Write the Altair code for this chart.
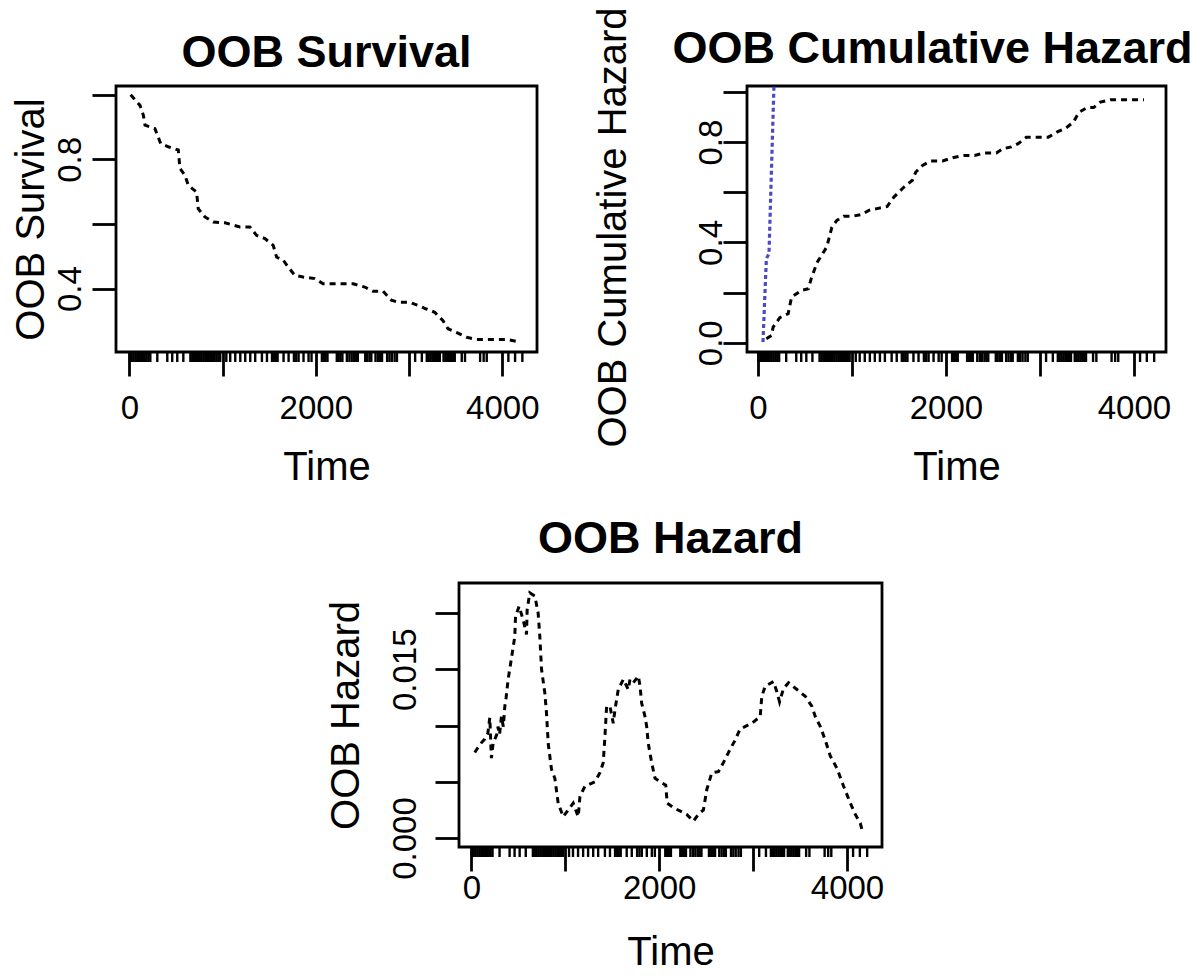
import altair as alt
import pandas as pd

FONT = "Liberation Sans"

# ---------------- data ----------------
surv_time = [14, 114, 150, 168, 275, 336, 418, 525, 543, 596, 632, 721, 739, 811, 900,
             1025, 1186, 1293, 1364, 1454, 1543, 1579, 1650, 1704, 1775, 1864, 1989, 2079,
             2186, 2400, 2525, 2614, 2721, 2811, 2882, 3007, 3096, 3186, 3275, 3364, 3418,
             3507, 3614, 3721, 3864, 4043, 4186]
surv_val = [1.0, 0.967, 0.937, 0.906, 0.895, 0.849, 0.839, 0.829, 0.772, 0.751, 0.720,
            0.699, 0.647, 0.622, 0.606, 0.604, 0.591, 0.591, 0.565, 0.555, 0.534, 0.498,
            0.488, 0.467, 0.441, 0.436, 0.431, 0.415, 0.415, 0.415, 0.405, 0.392, 0.392,
            0.364, 0.358, 0.358, 0.348, 0.337, 0.327, 0.301, 0.276, 0.265, 0.250, 0.243,
            0.243, 0.243, 0.235]

chaz_time = [89, 143, 161, 232, 321, 357, 464, 536, 571, 632, 732, 786, 839, 911, 1000,
             1107, 1179, 1268, 1375, 1446, 1554, 1643, 1679, 1750, 1839, 1964, 2071, 2196,
             2304, 2411, 2536, 2607, 2696, 2768, 2857, 2964, 3089, 3179, 3268, 3357, 3411,
             3500, 3571, 3643, 3750, 3857, 3982, 4107]
chaz_val = [0.016, 0.029, 0.0625, 0.100, 0.116, 0.182, 0.209, 0.215, 0.262, 0.322, 0.382,
            0.461, 0.488, 0.504, 0.504, 0.512, 0.528, 0.535, 0.544, 0.581, 0.621, 0.648,
            0.681, 0.707, 0.725, 0.725, 0.738, 0.747, 0.747, 0.757, 0.757, 0.774, 0.781,
            0.794, 0.820, 0.820, 0.820, 0.840, 0.854, 0.880, 0.918, 0.938, 0.938, 0.960,
            0.969, 0.969, 0.969, 0.969]

blue_time = [53, 89, 117, 170, 185]
blue_val = [0.003, 0.335, 0.355, 1.027, 1.217]

haz_time = [36, 89, 142, 175, 196, 213, 231, 270, 284, 300, 320, 340, 356, 370, 391, 427,
            462, 470, 508, 551, 587, 594, 622, 676, 711, 729, 747, 782, 800, 818, 853, 889,
            924, 978, 1031, 1084, 1138, 1156, 1209, 1316, 1369, 1404, 1422, 1440, 1476,
            1511, 1529, 1564, 1618, 1671, 1689, 1724, 1778, 1796, 1813, 1849, 1867, 1884,
            1920, 1956, 2070, 2085, 2151, 2293, 2364, 2418, 2471, 2507, 2560, 2631, 2684,
            2756, 2809, 2862, 2987, 3076, 3093, 3129, 3218, 3253, 3282, 3324, 3378, 3467,
            3556, 3627, 3662, 3716, 3769, 3822, 3893, 3964, 4036, 4089, 4142, 4171]
haz_val = [0.0076, 0.0083, 0.0088, 0.0093, 0.0107, 0.0071, 0.0084, 0.0092, 0.0099, 0.0092,
           0.0108, 0.0099, 0.0117, 0.0125, 0.0141, 0.0160, 0.0179, 0.0197, 0.0206, 0.0194,
           0.0181, 0.0203, 0.0218, 0.0215, 0.0200, 0.0179, 0.0150, 0.0129, 0.0111, 0.0084,
           0.0061, 0.0053, 0.0031, 0.0019, 0.0025, 0.0031, 0.0019, 0.0037, 0.0046, 0.0050,
           0.0058, 0.0067, 0.0090, 0.0117, 0.0117, 0.0102, 0.0114, 0.0132, 0.0141, 0.0132,
           0.0141, 0.0138, 0.0144, 0.0135, 0.0120, 0.0108, 0.0099, 0.0084, 0.0067, 0.0053,
           0.0047, 0.0031, 0.0027, 0.0021, 0.0015, 0.0021, 0.0025, 0.0043, 0.0058, 0.0059,
           0.0067, 0.0079, 0.0087, 0.0097, 0.0102, 0.0108, 0.0126, 0.0135, 0.0139, 0.0130,
           0.0121, 0.0133, 0.0138, 0.0132, 0.0126, 0.0117, 0.0108, 0.0099, 0.0087, 0.0073,
           0.0062, 0.0046, 0.0031, 0.0021, 0.0013, 0.0004]

rug_time = [5, 25, 45, 65, 85, 105, 125, 145, 165, 185, 205, 225, 300, 407, 460, 514, 579,
            655, 675, 695, 715, 735, 755, 775, 795, 815, 835, 855, 875, 895, 915, 935, 955,
            975, 1040, 1082, 1136, 1190, 1243, 1297, 1350, 1422, 1476, 1530, 1550, 1570,
            1590, 1654, 1708, 1765, 1790, 1815, 1868, 1922, 1954, 2065, 2085, 2105, 2125,
            2225, 2245, 2265, 2285, 2333, 2360, 2385, 2410, 2430, 2450, 2530, 2550, 2575,
            2595, 2640, 2665, 2690, 2710, 2765, 2790, 2815, 2845, 2870, 3065, 3137, 3190,
            3210, 3230, 3250, 3270, 3290, 3310, 3330, 3370, 3390, 3410, 3430, 3450, 3470,
            3490, 3565, 3600, 3762, 3800, 3833, 4065, 4137, 4215]

x_ticks = [0, 1000, 2000, 3000, 4000]

surv_df = pd.DataFrame({"time": surv_time, "value": surv_val})
chaz_df = pd.DataFrame({"time": chaz_time, "value": chaz_val})
blue_df = pd.DataFrame({"time": blue_time, "value": blue_val})
haz_df = pd.DataFrame({"time": haz_time, "value": haz_val, "idx": list(range(len(haz_time)))})
rug_df = pd.DataFrame({"time": rug_time})

DASH = [6, 5]
LW = 3


def x_enc(domain, label_pad, title_pad):
    return alt.X(
        "time:Q",
        scale=alt.Scale(domain=domain, nice=False, zero=False),
        axis=alt.Axis(values=x_ticks, format="d",
                      labelExpr="datum.value % 2000 == 0 ? datum.label : ''",
                      title="Time", labelPadding=label_pad, titlePadding=title_pad),
    )


def y_enc(domain, ticks, shown, fmt, title, label_pad, title_pad, **extra):
    cond = " || ".join(f"abs(datum.value - {v}) < 1e-9" for v in shown)
    return alt.Y(
        "value:Q",
        scale=alt.Scale(domain=domain, nice=False, zero=False),
        axis=alt.Axis(values=ticks, format=fmt,
                      labelExpr=f"({cond}) ? datum.label : ''",
                      title=title, labelPadding=label_pad, titlePadding=title_pad, **extra),
    )


def title_params(text, offset, dx=0):
    return alt.TitleParams(text=text, font=FONT, fontSize=45, fontWeight="bold",
                           color="black", anchor="middle", frame="group",
                           baseline="alphabetic", offset=offset, dx=dx)


def rug(H, xe):
    return alt.Chart(rug_df).mark_rule(color="black", strokeWidth=2.4).encode(
        x=xe, y=alt.value(H + 1), y2=alt.value(H + 10))


# ---------- top-left: OOB Survival ----------
W1, H1 = 421, 266
xe1 = x_enc([-143, 4372], 16, 22)
ye1 = y_enc([0.204, 1.027], [0.4, 0.6, 0.8, 1.0], [0.4, 0.8], ".1f", "OOB Survival", 12, 3)
surv_line = alt.Chart(surv_df).mark_line(color="black", strokeWidth=LW, strokeDash=DASH).encode(
    x=xe1, y=ye1)
tl = alt.layer(surv_line, rug(H1, xe1)).properties(
    width=W1, height=H1, title=title_params("OOB Survival", -26))

# ---------- top-right: OOB Cumulative Hazard ----------
W2, H2 = 419, 266
xe2 = x_enc([-117, 4341], 16, 22)
ye2 = y_enc([-0.037, 1.024], [0.0, 0.2, 0.4, 0.6, 0.8, 1.0], [0.0, 0.4, 0.8], ".1f",
            "OOB Cumulative Hazard", 2, 62, titleY=141)
chaz_line = alt.Chart(chaz_df).mark_line(color="black", strokeWidth=LW, strokeDash=DASH).encode(
    x=xe2, y=ye2)
blue_line = alt.Chart(blue_df).mark_line(color="#4a4ac4", strokeWidth=3.2, strokeDash=[4, 3],
                                         clip=True).encode(x=xe2, y=ye2)
tr = alt.layer(chaz_line, blue_line, rug(H2, xe2)).properties(
    width=W2, height=H2, title=title_params("OOB Cumulative Hazard", -101, dx=-24))

# ---------- bottom: OOB Hazard ----------
W3, H3 = 423, 264
xe3 = x_enc([-132, 4373], 1, 27)
ye3 = y_enc([-0.0008, 0.02267], [0.0, 0.005, 0.010, 0.015, 0.020], [0.0, 0.015], ".3f",
            "OOB Hazard", 20, 23)
haz_line = alt.Chart(haz_df).mark_line(color="black", strokeWidth=LW, strokeDash=DASH).encode(
    x=xe3, y=ye3, order="idx:Q")
bh = alt.layer(haz_line, rug(H3, xe3)).properties(
    width=W3, height=H3, title=title_params("OOB Hazard", -15))

spacer = alt.Chart(pd.DataFrame({"s": [0]})).mark_point(opacity=0).encode(
    x=alt.X("s:Q", axis=None), y=alt.Y("s:Q", axis=None)
).properties(width=343, height=H3, view=alt.ViewBackground(stroke="transparent"))

top = alt.hconcat(tl, tr, spacing=210, bounds="flush")
bottom = alt.hconcat(spacer, bh, spacing=0, bounds="flush")

chart = alt.vconcat(top, bottom, spacing=497, bounds="flush").properties(
    autosize=alt.AutoSizeParams(type="none"),
    padding={"left": 108, "top": 78, "right": 1080, "bottom": 885},
    background="white",
).configure_view(
    stroke="black", strokeWidth=2.8
).configure_axis(
    domain=False, grid=False, ticks=True, tickColor="black", tickWidth=2.8, tickSize=24,
    labelFont=FONT, labelFontSize=33, labelColor="black", labelOverlap=False,
    labelFlush=False, titleFont=FONT, titleFontSize=40, titleFontWeight="normal",
    titleColor="black",
).configure_axisY(
    labelAngle=270, labelAlign="center", labelBaseline="alphabetic",
)

chart.save("out.html", embed_options={"renderer": "svg", "actions": False})
